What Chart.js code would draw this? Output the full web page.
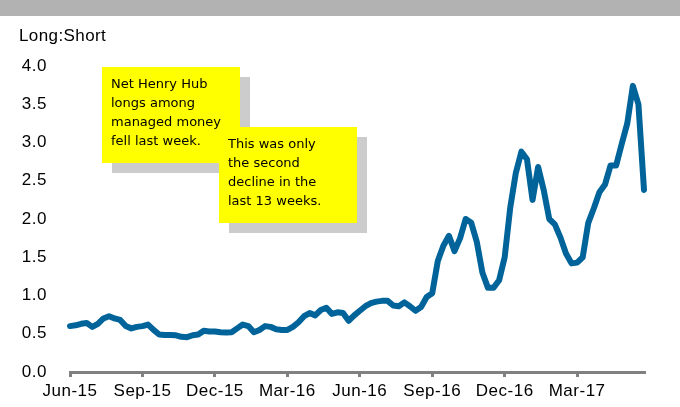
<!DOCTYPE html>
<html lang="en">
<head>
<meta charset="UTF-8">
<title>Long:Short</title>
<script src="https://cdnjs.cloudflare.com/ajax/libs/Chart.js/4.4.1/chart.umd.min.js"></script>
<style>
  body { margin: 0; background: #fff; }
  #wrap { position: relative; width: 680px; height: 407px; overflow: hidden; }
  #topbar { position: absolute; left: 0; top: 0; width: 680px; height: 16px; background: #b2b2b2; }
  #ylabel { position: absolute; left: 19px; top: 26px; font: 17px "Liberation Sans", Arial, sans-serif; letter-spacing: 0.4px; color: #000; }
  .note { position: absolute; background: #ffff00; box-shadow: 10px 10px 0 #cccccc;
          font: 13px "DejaVu Sans", sans-serif; line-height: 19px; color: #000; padding: 7px 0 0 9px; box-sizing: border-box; white-space: nowrap; }
  canvas { position: absolute; left: 0; top: 0; }
</style>
</head>
<body>
<div id="wrap">
  <canvas id="chart" width="680" height="407"></canvas>
  <div id="topbar"></div>
  <div id="ylabel">Long:Short</div>
  <div class="note" style="left:102px; top:67px; width:138px; height:96px;">Net Henry Hub<br>longs among<br>managed money<br>fell last week.</div>
  <div class="note" style="left:219px; top:127px; width:138px; height:96px;">This was only<br>the second<br>decline in the<br>last 13 weeks.</div>
</div>
<script>
// weekly long:short ratio, Jun-2015 .. May-2017
const ratio = [
  0.60, 0.61, 0.63, 0.64, 0.59, 0.63, 0.70, 0.73, 0.70, 0.68,
  0.60, 0.57, 0.59, 0.60, 0.62, 0.55, 0.49, 0.485, 0.485, 0.48,
  0.46, 0.455, 0.48, 0.49, 0.54, 0.53, 0.53, 0.52, 0.515, 0.52,
  0.57, 0.62, 0.60, 0.52, 0.55, 0.60, 0.59, 0.56, 0.55, 0.55,
  0.59, 0.65, 0.73, 0.77, 0.74, 0.81, 0.84, 0.76, 0.78, 0.77,
  0.67, 0.74, 0.80, 0.86, 0.90, 0.92, 0.93, 0.93, 0.87, 0.86,
  0.91, 0.86, 0.80, 0.85, 0.98, 1.03, 1.45, 1.65, 1.78, 1.58,
  1.75, 2.00, 1.95, 1.70, 1.30, 1.10, 1.10, 1.20, 1.50, 2.15,
  2.60, 2.88, 2.78, 2.25, 2.68, 2.38, 2.00, 1.93, 1.76, 1.55,
  1.42, 1.43, 1.50, 1.95, 2.14, 2.35, 2.45, 2.70, 2.70, 2.98,
  3.25, 3.74, 3.50, 2.38
];
const tickLabels = ['Jun-15', 'Sep-15', 'Dec-15', 'Mar-16', 'Jun-16', 'Sep-16', 'Dec-16', 'Mar-17'];
const weeksPerTick = 13;

const labels = ratio.map((v, i) => i % weeksPerTick === 0 ? (tickLabels[i / weeksPerTick] || '') : '');

// the source labels are set a little loose
const spacing = {
  id: 'spacing',
  beforeDraw(chart) { chart.ctx.letterSpacing = '0.5px'; }
};

const tickFont = { family: '"Liberation Sans", Arial, sans-serif', size: 17 };

new Chart(document.getElementById('chart'), {
  type: 'line',
  data: {
    labels: labels,
    datasets: [{
      data: ratio,
      borderColor: '#00649a',
      borderWidth: 6,
      pointRadius: 0,
      tension: 0,
      borderJoinStyle: 'round',
      borderCapStyle: 'round'
    }]
  },
  options: {
    responsive: false,
    animation: false,
    layout: { padding: { top: 66, right: 36, left: 0, bottom: 0 } },
    plugins: { legend: { display: false }, tooltip: { enabled: false } },
    scales: {
      x: {
        afterFit: s => { s.height = 35; },
        grid: {
          drawOnChartArea: false,
          drawTicks: true,
          tickLength: 5,
          lineWidth: 3,
          color: c => (c.tick && c.tick.label) ? '#808080' : 'rgba(0,0,0,0)'
        },
        border: { display: true, color: '#808080', width: 3 },
        ticks: {
          autoSkip: false,
          maxRotation: 0,
          padding: 4,
          color: '#000',
          font: tickFont
        }
      },
      y: {
        min: 0,
        max: 4,
        afterFit: s => { s.width = 70; },
        grid: { display: false },
        border: { display: false },
        ticks: {
          stepSize: 0.5,
          padding: 15,
          color: '#000',
          font: tickFont,
          callback: v => v.toFixed(1)
        }
      }
    }
  },
  plugins: [spacing]
});
</script>
</body>
</html>
